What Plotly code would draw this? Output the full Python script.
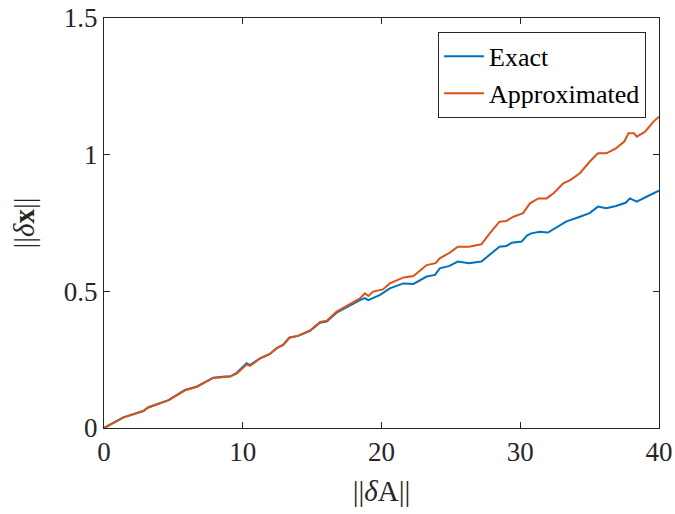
import plotly.graph_objects as go

# ---- data ----
x_exact = [0, 1.39, 2.83, 3.2, 4.64, 5.84, 6.68, 7.88, 8.72, 9.08, 9.56, 10.28, 10.52, 11.24,
           11.96, 12.45, 12.92, 13.36, 14.0, 14.85, 15.57, 16.05, 16.77, 17.73, 18.45, 18.8,
           19.05, 19.9, 20.6, 21.57, 22.3, 23.26, 23.86, 24.2, 24.9, 25.5, 26.3, 27.2, 27.8,
           28.5, 29.0, 29.4, 30.1, 30.5, 30.8, 31.4, 32.0, 32.5, 33.3, 34.3, 35.0, 35.6, 36.2,
           36.9, 37.6, 37.9, 38.4, 39.1, 40.0]
y_exact = [0, 0.039, 0.062, 0.076, 0.102, 0.139, 0.151, 0.184, 0.188, 0.188, 0.202, 0.237, 0.23,
           0.255, 0.271, 0.292, 0.304, 0.33, 0.337, 0.355, 0.385, 0.389, 0.422, 0.45, 0.468,
           0.475, 0.468, 0.487, 0.511, 0.529, 0.527, 0.554, 0.56, 0.584, 0.593, 0.609, 0.603,
           0.609, 0.633, 0.663, 0.666, 0.678, 0.682, 0.705, 0.712, 0.718, 0.715, 0.731, 0.755,
           0.773, 0.786, 0.81, 0.804, 0.812, 0.824, 0.84, 0.828, 0.846, 0.868]

x_approx = [0, 1.39, 2.83, 3.2, 4.64, 5.84, 6.68, 7.88, 8.72, 9.08, 9.56, 10.28, 10.52, 11.24,
            11.96, 12.45, 12.92, 13.36, 14.0, 14.85, 15.57, 16.05, 16.77, 17.73, 18.45, 18.8,
            19.05, 19.4, 20.1, 20.6, 21.6, 22.3, 23.26, 23.9, 24.2, 24.9, 25.5, 26.3, 27.2,
            27.8, 28.5, 29.0, 29.5, 30.2, 30.7, 31.3, 31.9, 32.4, 33.1, 33.6, 34.3, 35.0, 35.6,
            36.2, 36.9, 37.5, 37.8, 38.2, 38.4, 39.0, 39.6, 40.0]
y_approx = [0, 0.038, 0.062, 0.075, 0.101, 0.138, 0.151, 0.183, 0.187, 0.188, 0.199, 0.232,
            0.227, 0.254, 0.271, 0.292, 0.305, 0.331, 0.338, 0.357, 0.388, 0.392, 0.426, 0.455,
            0.474, 0.493, 0.483, 0.499, 0.507, 0.529, 0.551, 0.556, 0.596, 0.603, 0.621, 0.641,
            0.663, 0.663, 0.672, 0.712, 0.755, 0.757, 0.773, 0.786, 0.822, 0.84, 0.84, 0.859,
            0.895, 0.907, 0.932, 0.974, 1.005, 1.005, 1.023, 1.048, 1.078, 1.078, 1.066, 1.084,
            1.121, 1.139]

x_ticks = [0, 10, 20, 30, 40]
y_ticks = [0, 0.5, 1, 1.5]
y_tick_text = ["0", "0.5", "1", "1.5"]

FONT = "Liberation Serif"
AX = "#262626"

fig = go.Figure()
fig.add_trace(go.Scatter(x=x_exact, y=y_exact, mode="lines", name="Exact",
                         line=dict(color="#0072BD", width=2)))
fig.add_trace(go.Scatter(x=x_approx, y=y_approx, mode="lines", name="Approximated",
                         line=dict(color="#D95319", width=2)))

axis_common = dict(showline=True, linecolor=AX, linewidth=1, mirror="ticks",
                   ticks="inside", ticklen=6, tickcolor=AX, tickwidth=1,
                   showgrid=False, zeroline=False, automargin=False,
                   tickfont=dict(family=FONT, size=27, color="#262626"))

fig.update_xaxes(range=[0, 40], tickvals=x_ticks, ticktext=[str(v) for v in x_ticks],
                 title=dict(text="||<i>δ</i>A||", font=dict(family=FONT, size=29, color="#262626"),
                            standoff=14),
                 **axis_common)
fig.update_yaxes(range=[0, 1.5], tickvals=y_ticks, ticktext=y_tick_text,
                 title=dict(text="||<i>δ</i><b>x</b>||", font=dict(family=FONT, size=29, color="#262626"),
                            standoff=20),
                 **axis_common)

fig.update_layout(
    width=675, height=514,
    margin=dict(l=104, r=16, t=18, b=86),
    paper_bgcolor="white", plot_bgcolor="white",
    showlegend=True,
    legend=dict(x=0.9766, y=0.966, xanchor="right", yanchor="top",
                bgcolor="white", bordercolor="#262626", borderwidth=1,
                font=dict(family=FONT, size=26, color="black"),
                tracegroupgap=0, itemwidth=40),
)

fig.write_html("out.html")
